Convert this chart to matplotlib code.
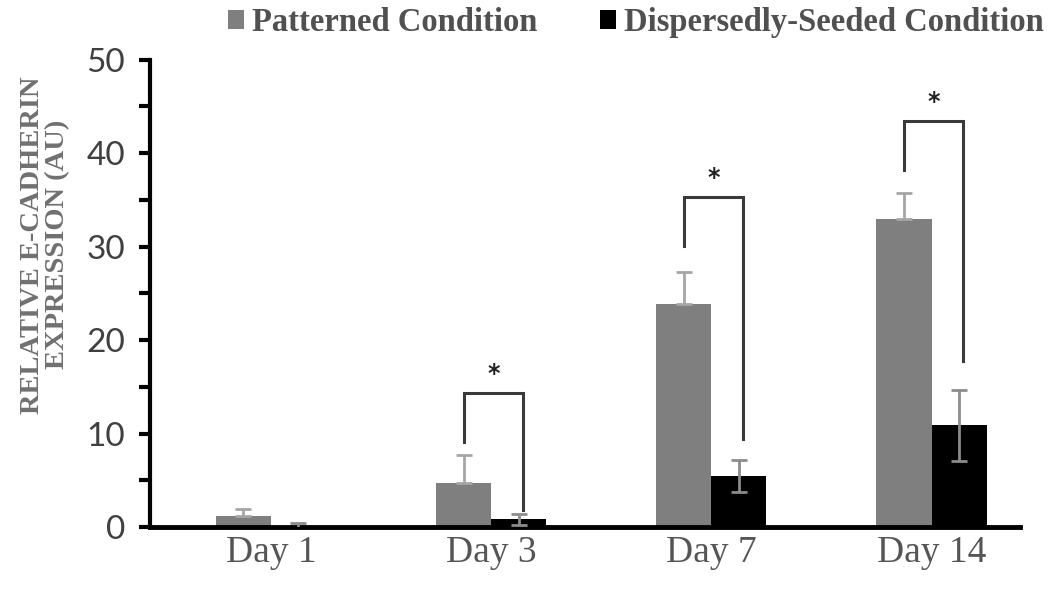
import numpy as np
import matplotlib
matplotlib.use("Agg")
import matplotlib.pyplot as plt
from matplotlib.patches import Patch

# data
days = ["Day 1", "Day 3", "Day 7", "Day 14"]
patterned = [1.2, 4.7, 23.9, 33.0]
patterned_err = [0.7, 3.0, 3.4, 2.7]
dispersed = [0.1, 0.85, 5.5, 10.9]
dispersed_err = [0.3, 0.6, 1.7, 3.8]

# significance brackets: (day index, left leg bottom, right leg bottom, top)
bracket_days = [1, 2, 3]
bracket_left = [9.1, 30.1, 38.2]
bracket_right = [1.8, 9.4, 17.8]
bracket_top = [14.3, 35.3, 43.4]

fig = plt.figure(figsize=(10.49, 5.97), dpi=100)
ax = fig.add_axes([0.143, 0.117, 0.829, 0.783])

x = np.arange(len(days))
w = 0.25

ax.bar(x - w / 2, patterned, w, color="#7f7f7f", zorder=2)
ax.bar(x + w / 2, dispersed, w, color="#000000", zorder=2)

# error bars: gray bars only upward, black bars both ways
ax.errorbar(x - w / 2, patterned, yerr=[np.zeros(len(days)), patterned_err],
            fmt="none", ecolor="#a6a6a6", elinewidth=2, capsize=6, capthick=2, zorder=3)
ax.errorbar(x + w / 2, dispersed, yerr=dispersed_err,
            fmt="none", ecolor="#8c8c8c", elinewidth=2, capsize=6, capthick=2, zorder=3)

# brackets + stars
for d, lb, rb, top in zip(bracket_days, bracket_left, bracket_right, bracket_top):
    xl = d - w / 2
    xr = d + w / 2 + 0.02
    ax.plot([xl, xl, xr, xr], [lb, top, top, rb], color="#3a3a3a", lw=2.2,
            solid_joinstyle="miter", zorder=4)
    ax.text((xl + xr) / 2, top + 0.8, "*", ha="center", va="bottom",
            fontsize=17, fontweight="bold", color="#222222", family="DejaVu Sans")

ax.set_xlim(-0.549, 3.40)
ax.set_ylim(0, 50)
ax.set_yticks(np.arange(0, 51, 10))
ax.set_yticks(np.arange(0, 51, 5), minor=True)
ax.set_xticks(x)
ax.set_xticklabels(days, family="Liberation Serif", fontsize=27, color="#555555")
for lbl in ax.get_yticklabels():
    lbl.set_family("Lato")
    lbl.set_fontsize(24)
    lbl.set_color("#404040")

ax.tick_params(axis="y", which="both", direction="out", length=8, width=3,
               color="black", pad=10)
ax.tick_params(axis="x", length=0, pad=6)

for s in ["top", "right"]:
    ax.spines[s].set_visible(False)
ax.spines["left"].set_linewidth(3)
ax.spines["bottom"].set_linewidth(3.5)

ax.set_ylabel("RELATIVE E-CADHERIN\nEXPRESSION (AU)", family="Liberation Serif",
              fontweight="bold", fontsize=20.5, color="#707070",
              linespacing=1.0)
ax.yaxis.set_label_coords(-0.092, 0.604)

handles = [Patch(facecolor="#7f7f7f", label="Patterned Condition"),
           Patch(facecolor="#000000", label="Dispersedly-Seeded Condition")]
leg = fig.legend(handles=handles, loc="center", bbox_to_anchor=(0.606, 0.962),
                 ncol=2, frameon=False, handlelength=0.5, handleheight=0.5,
                 handletextpad=0.25, columnspacing=1.9,
                 prop={"family": "Liberation Serif", "weight": "bold", "size": 23.5})
for t in leg.get_texts():
    t.set_color("#505050")

fig.savefig("out.png", dpi=100)
